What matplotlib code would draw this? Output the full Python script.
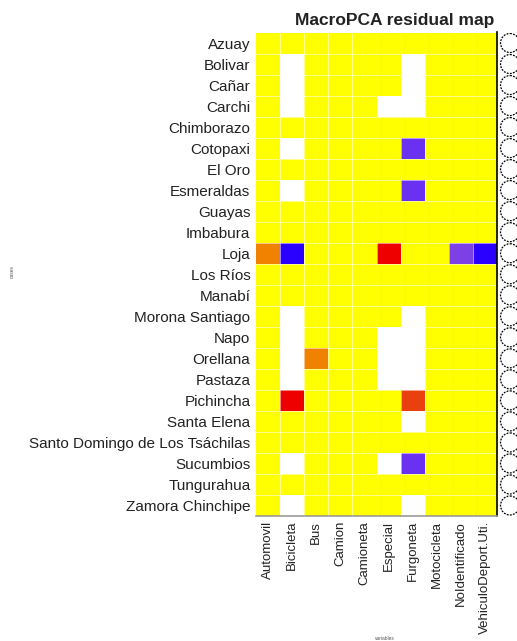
import numpy as np
import matplotlib.pyplot as plt
from matplotlib.colors import ListedColormap, BoundaryNorm
from matplotlib.patches import Circle

provinces = ["Azuay", "Bolivar", "Cañar", "Carchi", "Chimborazo", "Cotopaxi",
             "El Oro", "Esmeraldas", "Guayas", "Imbabura", "Loja", "Los Ríos",
             "Manabí", "Morona Santiago", "Napo", "Orellana", "Pastaza",
             "Pichincha", "Santa Elena", "Santo Domingo de Los Tsáchilas",
             "Sucumbios", "Tungurahua", "Zamora Chinchipe"]
vehicles = ["Automovil", "Bicicleta", "Bus", "Camion", "Camioneta", "Especial",
            "Furgoneta", "Motocicleta", "NoIdentificado", "VehiculoDeport.Uti."]

# residual level per cell: 0 = regular, +/- = flagged cells, None = missing
N = None
residuals = [
    [0, 0, 0, 0, 0, 0, 0, 0, 0, 0],
    [0, N, 0, 0, 0, 0, N, 0, 0, 0],
    [0, N, 0, 0, 0, 0, N, 0, 0, 0],
    [0, N, 0, 0, 0, N, N, 0, 0, 0],
    [0, 0, 0, 0, 0, 0, 0, 0, 0, 0],
    [0, N, 0, 0, 0, 0, -2, 0, 0, 0],
    [0, 0, 0, 0, 0, 0, 0, 0, 0, 0],
    [0, N, 0, 0, 0, 0, -2, 0, 0, 0],
    [0, 0, 0, 0, 0, 0, 0, 0, 0, 0],
    [0, 0, 0, 0, 0, 0, 0, 0, 0, 0],
    [1, -3, 0, 0, 0, 3, 0, 0, -1, -3],
    [0, 0, 0, 0, 0, 0, 0, 0, 0, 0],
    [0, 0, 0, 0, 0, 0, 0, 0, 0, 0],
    [0, N, 0, 0, 0, 0, N, 0, 0, 0],
    [0, N, 0, 0, 0, N, N, 0, 0, 0],
    [0, N, 1, 0, 0, N, N, 0, 0, 0],
    [0, N, 0, 0, 0, N, N, 0, 0, 0],
    [0, 3, 0, 0, 0, 0, 2, 0, 0, 0],
    [0, 0, 0, 0, 0, 0, N, 0, 0, 0],
    [0, 0, 0, 0, 0, 0, 0, 0, 0, 0],
    [0, N, 0, 0, 0, N, -2, 0, 0, 0],
    [0, 0, 0, 0, 0, 0, 0, 0, 0, 0],
    [0, N, 0, 0, 0, 0, N, 0, 0, 0],
]

plt.rcParams['font.family'] = ['Liberation Sans', 'DejaVu Sans']

grid = np.ma.masked_invalid(
    np.array([[np.nan if v is None else v for v in row] for row in residuals], dtype=float))

cmap = ListedColormap(["#2a00ff", "#6a32f0", "#7c40e6", "#ffff00",
                       "#f08200", "#e8400e", "#ee0000"])
norm = BoundaryNorm(np.arange(-3.5, 4.5, 1), cmap.N)

W, H = 517, 641
fig = plt.figure(figsize=(W / 100, H / 100), dpi=100)
left, right, top, bottom = 256, 497, 32.5, 516
ax = fig.add_axes([left / W, 1 - bottom / H, (right - left) / W, (bottom - top) / H])
nr, nc = len(provinces), len(vehicles)
ax.pcolormesh(np.arange(nc + 1) - 0.5, np.arange(nr + 1) - 0.5, grid,
              cmap=cmap, norm=norm, linewidth=0, antialiased=False)
ax.set_xlim(-0.5, nc - 0.5)
ax.set_ylim(nr - 0.5, -0.5)

for i in range(1, nr):
    ax.axhline(i - 0.5, color="white", lw=0.7, alpha=0.55)
for j in range(1, nc):
    ax.axvline(j - 0.5, color="white", lw=0.7, alpha=0.55)

ax.set_yticks(range(nr))
ax.set_yticklabels(provinces, fontsize=11, color="#222222")
ax.set_xticks(range(nc))
ax.set_xticklabels(vehicles, rotation=90, fontsize=9.5, color="#222222")
ax.tick_params(length=0, pad=4)
ax.tick_params(axis="x", pad=3.5)
for s in ["top", "left"]:
    ax.spines[s].set_visible(False)
ax.spines["right"].set_color("black")
ax.spines["right"].set_linewidth(1.2)
ax.spines["bottom"].set_color("#999999")
ax.spines["bottom"].set_linewidth(1.2)

# row markers to the right of the map
cax = fig.add_axes([right / W, 1 - bottom / H, (W - right) / W, (bottom - top) / H])
cax.set_xlim(0, W - right)
cax.set_ylim(bottom - top, 0)
cax.axis("off")
step = (bottom - top) / nr
for i in range(nr):
    cax.add_patch(Circle((13, (i + 0.5) * step), 9.5, fill=False,
                         ec="black", lw=0.9, ls=(0, (1.5, 1))))

fig.text(395 / W, 1 - 20 / H, "MacroPCA residual map", ha="center", va="center",
         fontsize=12.5, fontweight="bold", color="#222222")
fig.text(12 / W, 1 - 272 / H, "cases", rotation=90, ha="center", va="center",
         fontsize=3.5, color="#555555")
fig.text(385 / W, 1 - 638 / H, "variables", ha="center", va="center",
         fontsize=3.5, color="#555555")

fig.savefig("out.png", dpi=100)
